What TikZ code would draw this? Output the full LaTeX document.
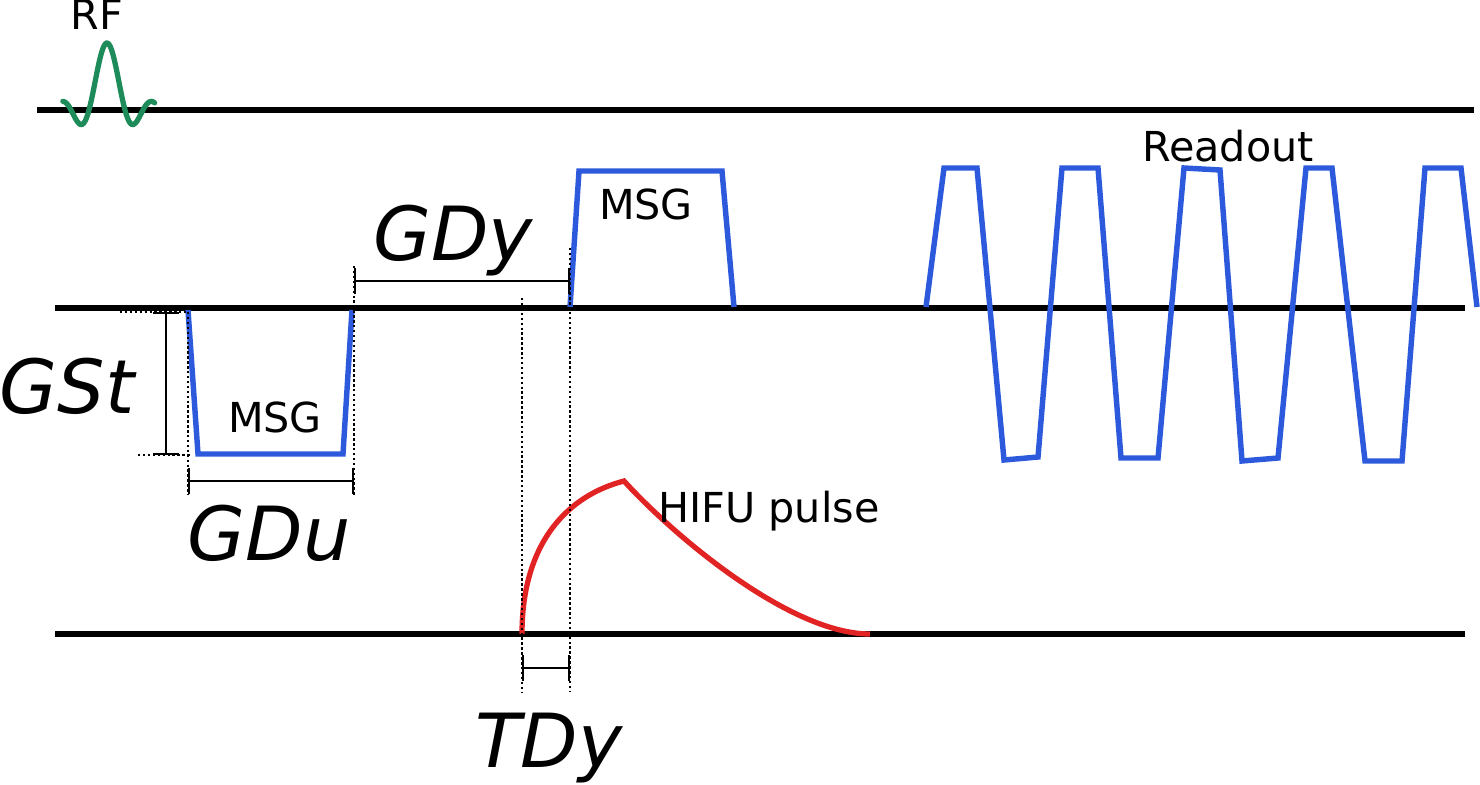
\documentclass[tikz,border=0pt]{standalone}
\usepackage{fontspec}
\setmainfont{DejaVu Sans}
\usetikzlibrary{arrows.meta}

\definecolor{gradblue}{RGB}{45,90,220}
\definecolor{rfgreen}{RGB}{30,140,90}
\definecolor{hifured}{RGB}{225,35,35}

\begin{document}
\begin{tikzpicture}[x=0.02cm, y=-0.02cm,
    axis/.style={line width=3.4pt},
    grad/.style={gradblue, line width=3.1pt},
    rfpulse/.style={rfgreen, line width=3pt, line cap=round},
    hifu/.style={hifured, line width=3pt},
    guide/.style={line width=1.5pt, dash pattern=on 1.4pt off 1.4pt},
    dimline/.style={line width=1.3pt, {Bar[width=15pt]}-{Bar[width=15pt]}},
    txt/.style={font=\fontsize{23.5}{27}\selectfont, anchor=base, inner sep=0pt},
    dimtxt/.style={font=\fontsize{42.5}{48}\selectfont\itshape, anchor=base, inner sep=0pt},
]
\useasboundingbox (0,0) rectangle (1480,784);

% time axes
\draw [axis] (37,110) -- (1474,110);
\draw [axis] (55,308) -- (1465,308);
\draw [axis] (55,634) -- (1465,634);

% RF pulse
\draw [rfpulse] plot[domain=-2.45:2.65, samples=81, smooth]
    ({107+18*\x}, {110-67*sin(180*\x)/(pi*\x)});
\node [txt] (rf) at (97,30) {RF};

% gradients
\draw [grad] (188,310) -- (198,454) -- (343,454) -- (352,310);
\node [txt] (msgA) at (275,432) {MSG};
\draw [grad] (570,307) -- (579,171) -- (722,171) -- (734,307);
\node [txt] (msgB) at (646,219) {MSG};

\draw [grad] (926,307) -- (944,168) -- (977,168) -- (1004,460) -- (1038,457)
    -- (1062,168) -- (1098,168) -- (1121,458) -- (1158,458)
    -- (1184,168) -- (1220,170) -- (1242,461) -- (1278,458)
    -- (1306,168) -- (1332,168) -- (1365,461) -- (1402,461)
    -- (1425,168) -- (1461,168) -- (1477,307);
\node [txt] (readout) at (1228,161) {Readout};

% HIFU pulse
\draw [hifu] (522,634) .. controls (522,540) and (570,495) .. (624,481)
    .. controls (674,536) and (790,634) .. (870,634);
\node [txt] (hifulbl) at (769,522) {HIFU pulse};

% guides
\coordinate (stTop) at (166,312);
\coordinate (stBot) at (166,455);
\coordinate (duL) at (188,481);
\coordinate (duR) at (354,481);
\coordinate (dyL) at (354,281);
\coordinate (dyR) at (570,281);
\coordinate (tdL) at (522,668);
\coordinate (tdR) at (570,668);

\draw [guide] (120,312) -- (188,312);
\draw [guide] (138,455) -- (190,455);
\draw [guide] (188,312) -- (188,495);
\draw [guide] (354,266) -- (354,495);
\draw [guide] (570,248) -- (570,692);
\draw [guide] (522,298) -- (522,692);

\draw [dimline] (stTop) -- (stBot);
\draw [dimline] (duL) -- (duR);
\draw [dimline] (dyL) -- (dyR);
\draw [dimline] (tdL) -- (tdR);

\node [dimtxt] (gst) at (67,413) {GSt};
\node [dimtxt] (gdu) at (269,560) {GDu};
\node [dimtxt] (gdy) at (453,260) {GDy};
\node [dimtxt] (tdy) at (549,767) {TDy};

\end{tikzpicture}
\end{document}
